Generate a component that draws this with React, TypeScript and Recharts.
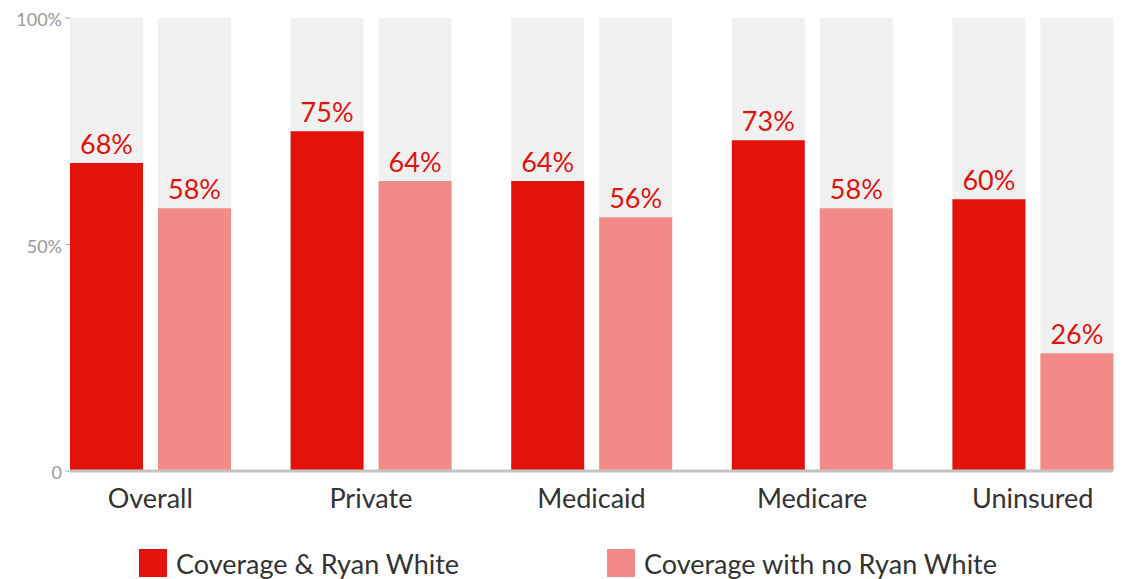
import { BarChart, Bar, XAxis, YAxis, LabelList } from "recharts";

const categories = ["Overall", "Private", "Medicaid", "Medicare", "Uninsured"];
const withRyanWhite = [68, 75, 64, 73, 60];
const noRyanWhite = [58, 64, 56, 58, 26];
const yTicks = [0, 50, 100];

const RED = "#e3120b";
const PINK = "#f28a87";
const FONT = "Lato, 'Open Sans', sans-serif";

const data = categories.map((name, i) => ({
  name,
  rw: withRyanWhite[i],
  norw: noRyanWhite[i],
}));

const LegendItem = ({ color, label, left }: { color: string; label: string; left: number }) => (
  <div
    style={{
      position: "absolute",
      left,
      top: 549,
      display: "flex",
      alignItems: "center",
      height: 28,
    }}
  >
    <div style={{ width: 28, height: 28, background: color, marginRight: 9 }} />
    <span style={{ fontFamily: FONT, fontSize: 27, color: "#333" }}>{label}</span>
  </div>
);

const App = () => {
  return (
    <div style={{ position: "absolute", left: 0, top: 0, width: 1135, height: 579 }}>
      <BarChart
        width={1135}
        height={520}
        data={data}
        margin={{ top: 18, right: 22, bottom: 0, left: 0 }}
        barCategoryGap={30}
        barGap={15}
      >
        <XAxis
          dataKey="name"
          height={49}
          padding={{ left: -30, right: -30 }}
          axisLine={{ stroke: "#c4c4c4", strokeWidth: 3 }}
          tickLine={false}
          tickSize={0}
          tickMargin={18}
          tick={{ fill: "#333", fontSize: 27, fontFamily: FONT }}
        />
        <YAxis
          width={70}
          domain={[0, 100]}
          ticks={yTicks}
          axisLine={false}
          tickLine={{ stroke: "#aaa" }}
          tickSize={5}
          tickMargin={3}
          tickFormatter={(v: number) => (v === 0 ? "0" : `${v}%`)}
          tick={{ fill: "#999", fontSize: 18, fontFamily: FONT, dy: 2 }}
        />
        <Bar dataKey="rw" fill={RED} background={{ fill: "#f1f1f1" }} isAnimationActive={false}>
          <LabelList
            dataKey="rw"
            position="top"
            offset={9}
            formatter={(v: number) => `${v}%`}
            style={{ fill: RED, fontSize: 27, fontFamily: FONT }}
          />
        </Bar>
        <Bar dataKey="norw" fill={PINK} background={{ fill: "#f1f1f1" }} isAnimationActive={false}>
          <LabelList
            dataKey="norw"
            position="top"
            offset={9}
            formatter={(v: number) => `${v}%`}
            style={{ fill: RED, fontSize: 27, fontFamily: FONT }}
          />
        </Bar>
      </BarChart>
      <LegendItem color={RED} label="Coverage & Ryan White" left={139} />
      <LegendItem color={PINK} label="Coverage with no Ryan White" left={607} />
    </div>
  );
};

export default App;
